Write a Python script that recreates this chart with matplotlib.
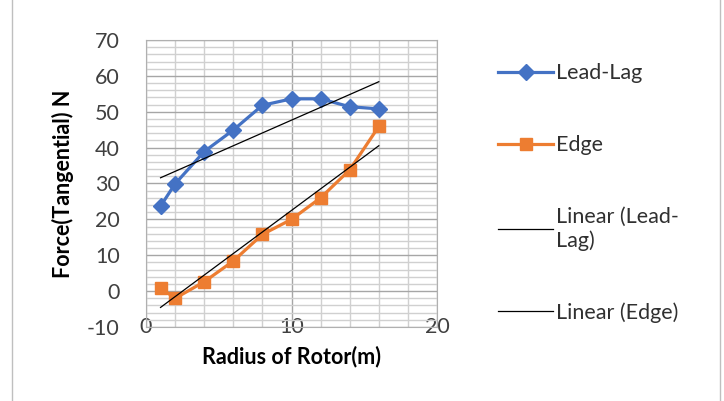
import numpy as np
import matplotlib.pyplot as plt
from matplotlib.ticker import MultipleLocator
from matplotlib.lines import Line2D

plt.rcParams['font.family'] = ['Lato', 'DejaVu Sans']
plt.rcParams['axes.unicode_minus'] = False

radius = [1, 2, 4, 6, 8, 10, 12, 14, 16]
lead_lag = [23.7, 29.9, 38.9, 44.9, 51.8, 53.6, 53.6, 51.4, 50.8]
edge = [0.9, -2.0, 2.6, 8.4, 15.8, 20.0, 26.0, 33.8, 45.9]

blue = '#4472C4'
orange = '#ED7D31'

fig = plt.figure(figsize=(7.24, 4.01), dpi=100)
ax = fig.add_axes([146 / 724, 1 - 327 / 401, 291 / 724, 287 / 401])

ax.plot(radius, lead_lag, color=blue, lw=2.3, marker='D', markersize=8,
        label='Lead-Lag', zorder=3)
ax.plot(radius, edge, color=orange, lw=2.3, marker='s', markersize=9,
        label='Edge', zorder=3)

# linear trendlines, fitted like excel does
xs = np.array([radius[0], radius[-1]])
k1, b1 = np.polyfit(radius, lead_lag, 1)
k2, b2 = np.polyfit(radius, edge, 1)
ax.plot(xs, k1 * xs + b1, color='black', lw=0.9, label='Linear (Lead-\nLag)', zorder=4)
ax.plot(xs, k2 * xs + b2, color='black', lw=0.9, label='Linear (Edge)', zorder=4)

ax.set_xlim(0, 20)
ax.set_ylim(-10, 70)
ax.xaxis.set_major_locator(MultipleLocator(10))
ax.xaxis.set_minor_locator(MultipleLocator(2))
ax.yaxis.set_major_locator(MultipleLocator(10))
ax.yaxis.set_minor_locator(MultipleLocator(2))
ax.grid(which='major', color='#a6a6a6', lw=1.0)
ax.grid(which='minor', color='#d0d0d0', lw=1.0)
ax.set_axisbelow(True)
for s in ax.spines.values():
    s.set_color('#b0b0b0')

ax.tick_params(which='both', length=0, labelsize=15.5, colors='#404040')
ax.tick_params(axis='y', pad=19)
ax.tick_params(axis='x', pad=-7)
ax.set_xlabel('Radius of Rotor(m)', fontsize=15.5, fontweight='bold', labelpad=6)
ax.set_ylabel('Force(Tangential) N', fontsize=15.5, fontweight='bold', labelpad=9)

fig.legend(loc='upper left', bbox_to_anchor=(479 / 724, 1 - 44 / 401),
           frameon=False, fontsize=15.5, handlelength=2.55, handletextpad=0.15,
           labelspacing=2.4, labelcolor='#303030')

# chart border
fig.add_artist(Line2D([12 / 724, 12 / 724], [0, 1], color='#bfbfbf', lw=1))
fig.add_artist(Line2D([720 / 724, 720 / 724], [0, 1], color='#bfbfbf', lw=1))

fig.savefig('out.png', dpi=100)
